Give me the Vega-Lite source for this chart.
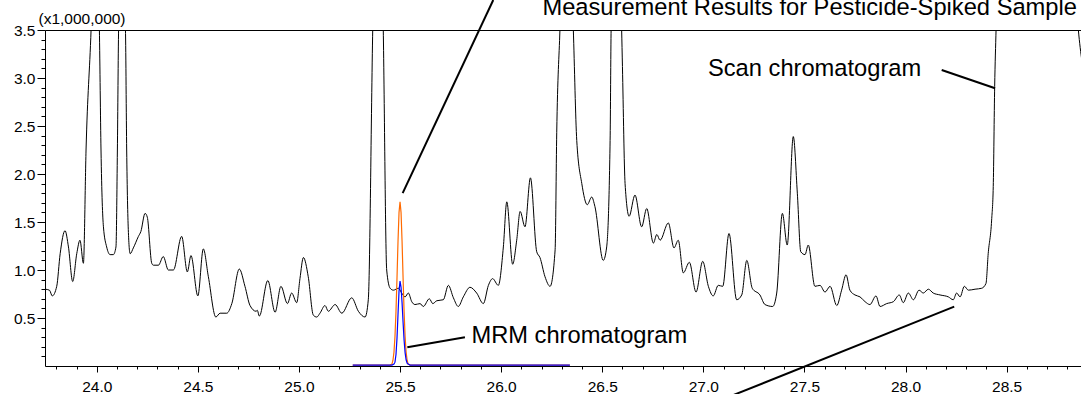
{
  "$schema": "https://vega.github.io/schema/vega-lite/v6.json",
  "width": 1036,
  "height": 336,
  "autosize": {"type": "none"},
  "padding": {"left": 45, "top": 30, "right": 0, "bottom": 28},
  "background": "white",
  "config": {
    "view": {"stroke": null},
    "axis": {
      "domainColor": "#000000",
      "tickColor": "#000000",
      "labelColor": "#000000",
      "labelFont": "Liberation Sans",
      "labelFontSize": 15.5,
      "grid": false,
      "titleFont": "Liberation Sans",
      "titleColor": "#000000",
      "titleFontWeight": "normal"
    }
  },
  "datasets": {
    "scan": [
      {"x": 23.744, "y": 0.80}, {"x": 23.766, "y": 0.79}, {"x": 23.780, "y": 0.73}, {"x": 23.802, "y": 0.83},
      {"x": 23.819, "y": 1.17}, {"x": 23.843, "y": 1.41}, {"x": 23.860, "y": 1.24}, {"x": 23.881, "y": 0.88},
      {"x": 23.901, "y": 1.17}, {"x": 23.917, "y": 1.31}, {"x": 23.934, "y": 1.07}, {"x": 23.947, "y": 2.25},
      {"x": 23.972, "y": 3.51}, {"x": 23.994, "y": 5.0}, {"x": 24.013, "y": 3.51}, {"x": 24.021, "y": 2.25},
      {"x": 24.033, "y": 1.45}, {"x": 24.049, "y": 1.24}, {"x": 24.066, "y": 1.16}, {"x": 24.082, "y": 1.16},
      {"x": 24.095, "y": 1.24}, {"x": 24.102, "y": 2.25}, {"x": 24.108, "y": 3.51}, {"x": 24.124, "y": 4.5},
      {"x": 24.142, "y": 3.51}, {"x": 24.148, "y": 2.25}, {"x": 24.156, "y": 1.42}, {"x": 24.165, "y": 1.17},
      {"x": 24.181, "y": 1.23}, {"x": 24.206, "y": 1.35}, {"x": 24.218, "y": 1.40}, {"x": 24.239, "y": 1.59},
      {"x": 24.250, "y": 1.55}, {"x": 24.272, "y": 1.07}, {"x": 24.280, "y": 1.05}, {"x": 24.305, "y": 1.05},
      {"x": 24.329, "y": 1.14}, {"x": 24.354, "y": 1.00}, {"x": 24.379, "y": 1.00}, {"x": 24.420, "y": 1.35},
      {"x": 24.448, "y": 0.98}, {"x": 24.466, "y": 1.15}, {"x": 24.500, "y": 0.73}, {"x": 24.527, "y": 1.22},
      {"x": 24.552, "y": 0.93}, {"x": 24.589, "y": 0.51}, {"x": 24.610, "y": 0.55}, {"x": 24.643, "y": 0.55},
      {"x": 24.668, "y": 0.65}, {"x": 24.705, "y": 1.01}, {"x": 24.733, "y": 0.83}, {"x": 24.758, "y": 0.63},
      {"x": 24.788, "y": 0.57}, {"x": 24.794, "y": 0.58}, {"x": 24.804, "y": 0.52}, {"x": 24.846, "y": 0.89},
      {"x": 24.882, "y": 0.56}, {"x": 24.911, "y": 0.83}, {"x": 24.943, "y": 0.65}, {"x": 24.964, "y": 0.76},
      {"x": 24.989, "y": 0.66}, {"x": 25.005, "y": 0.91}, {"x": 25.022, "y": 1.13}, {"x": 25.046, "y": 0.93},
      {"x": 25.071, "y": 0.53}, {"x": 25.088, "y": 0.51}, {"x": 25.104, "y": 0.55}, {"x": 25.129, "y": 0.63},
      {"x": 25.145, "y": 0.57}, {"x": 25.179, "y": 0.64}, {"x": 25.212, "y": 0.55}, {"x": 25.261, "y": 0.71},
      {"x": 25.294, "y": 0.57}, {"x": 25.327, "y": 0.51}, {"x": 25.343, "y": 0.69}, {"x": 25.365, "y": 3.51},
      {"x": 25.391, "y": 6.0}, {"x": 25.417, "y": 3.51}, {"x": 25.434, "y": 1.00}, {"x": 25.451, "y": 0.81},
      {"x": 25.467, "y": 0.79}, {"x": 25.492, "y": 0.81}, {"x": 25.508, "y": 0.76}, {"x": 25.525, "y": 0.72},
      {"x": 25.541, "y": 0.76}, {"x": 25.558, "y": 0.67}, {"x": 25.574, "y": 0.64}, {"x": 25.599, "y": 0.65},
      {"x": 25.615, "y": 0.62}, {"x": 25.645, "y": 0.70}, {"x": 25.662, "y": 0.65}, {"x": 25.682, "y": 0.68},
      {"x": 25.714, "y": 0.69}, {"x": 25.739, "y": 0.84}, {"x": 25.764, "y": 0.71}, {"x": 25.788, "y": 0.62},
      {"x": 25.813, "y": 0.72}, {"x": 25.846, "y": 0.82}, {"x": 25.879, "y": 0.76}, {"x": 25.912, "y": 0.65},
      {"x": 25.937, "y": 0.84}, {"x": 25.958, "y": 0.91}, {"x": 25.986, "y": 0.84}, {"x": 26.011, "y": 1.24},
      {"x": 26.028, "y": 1.71}, {"x": 26.057, "y": 1.06}, {"x": 26.077, "y": 1.31}, {"x": 26.094, "y": 1.61},
      {"x": 26.118, "y": 1.45}, {"x": 26.145, "y": 1.96}, {"x": 26.176, "y": 1.19}, {"x": 26.192, "y": 1.13},
      {"x": 26.217, "y": 0.93}, {"x": 26.242, "y": 0.83}, {"x": 26.267, "y": 1.21}, {"x": 26.275, "y": 2.43},
      {"x": 26.291, "y": 3.51}, {"x": 26.324, "y": 5.5}, {"x": 26.357, "y": 3.51}, {"x": 26.374, "y": 2.35},
      {"x": 26.399, "y": 1.90}, {"x": 26.426, "y": 1.68}, {"x": 26.448, "y": 1.76}, {"x": 26.464, "y": 1.66},
      {"x": 26.505, "y": 1.10}, {"x": 26.522, "y": 1.24}, {"x": 26.539, "y": 2.35}, {"x": 26.544, "y": 3.51},
      {"x": 26.568, "y": 5.0}, {"x": 26.596, "y": 3.51}, {"x": 26.600, "y": 3.12}, {"x": 26.613, "y": 1.90},
      {"x": 26.633, "y": 1.56}, {"x": 26.662, "y": 1.78}, {"x": 26.695, "y": 1.45}, {"x": 26.720, "y": 1.64},
      {"x": 26.753, "y": 1.28}, {"x": 26.770, "y": 1.37}, {"x": 26.786, "y": 1.31}, {"x": 26.827, "y": 1.49},
      {"x": 26.855, "y": 1.23}, {"x": 26.876, "y": 1.31}, {"x": 26.901, "y": 0.97}, {"x": 26.931, "y": 1.08},
      {"x": 26.964, "y": 0.77}, {"x": 26.997, "y": 1.09}, {"x": 27.025, "y": 0.83}, {"x": 27.049, "y": 0.73},
      {"x": 27.074, "y": 0.84}, {"x": 27.096, "y": 0.83}, {"x": 27.127, "y": 1.38}, {"x": 27.165, "y": 0.69},
      {"x": 27.190, "y": 0.74}, {"x": 27.215, "y": 1.10}, {"x": 27.242, "y": 0.81}, {"x": 27.280, "y": 0.74},
      {"x": 27.305, "y": 0.64}, {"x": 27.343, "y": 0.62}, {"x": 27.363, "y": 0.76}, {"x": 27.391, "y": 1.59},
      {"x": 27.415, "y": 1.26}, {"x": 27.445, "y": 2.39}, {"x": 27.465, "y": 1.80}, {"x": 27.482, "y": 1.19},
      {"x": 27.503, "y": 1.16}, {"x": 27.519, "y": 1.26}, {"x": 27.552, "y": 0.83}, {"x": 27.577, "y": 0.84},
      {"x": 27.602, "y": 0.77}, {"x": 27.627, "y": 0.83}, {"x": 27.660, "y": 0.63}, {"x": 27.684, "y": 0.79},
      {"x": 27.706, "y": 0.95}, {"x": 27.725, "y": 0.79}, {"x": 27.750, "y": 0.74}, {"x": 27.775, "y": 0.72},
      {"x": 27.800, "y": 0.67}, {"x": 27.824, "y": 0.64}, {"x": 27.854, "y": 0.73}, {"x": 27.874, "y": 0.62},
      {"x": 27.907, "y": 0.65}, {"x": 27.940, "y": 0.67}, {"x": 27.969, "y": 0.74}, {"x": 27.989, "y": 0.66},
      {"x": 28.014, "y": 0.76}, {"x": 28.039, "y": 0.69}, {"x": 28.067, "y": 0.79}, {"x": 28.088, "y": 0.76},
      {"x": 28.113, "y": 0.80}, {"x": 28.137, "y": 0.76}, {"x": 28.171, "y": 0.74}, {"x": 28.212, "y": 0.72},
      {"x": 28.236, "y": 0.69}, {"x": 28.253, "y": 0.76}, {"x": 28.270, "y": 0.72}, {"x": 28.291, "y": 0.83},
      {"x": 28.311, "y": 0.79}, {"x": 28.344, "y": 0.80}, {"x": 28.377, "y": 0.81}, {"x": 28.398, "y": 0.86},
      {"x": 28.409, "y": 1.17}, {"x": 28.426, "y": 1.52}, {"x": 28.434, "y": 1.87}, {"x": 28.441, "y": 2.91},
      {"x": 28.448, "y": 3.51}, {"x": 28.467, "y": 5.0}, {"x": 28.814, "y": 5.0}, {"x": 28.855, "y": 3.50},
      {"x": 28.873, "y": 3.17}
    ],
    "mrmOrange": [
      {"x": 25.266, "y": 0.01}, {"x": 25.45, "y": 0.01}, {"x": 25.46, "y": 0.02}, {"x": 25.465, "y": 0.06},
      {"x": 25.47, "y": 0.145}, {"x": 25.475, "y": 0.31}, {"x": 25.48, "y": 0.57}, {"x": 25.485, "y": 0.92},
      {"x": 25.49, "y": 1.30}, {"x": 25.495, "y": 1.60}, {"x": 25.50, "y": 1.71}, {"x": 25.505, "y": 1.60},
      {"x": 25.51, "y": 1.30}, {"x": 25.515, "y": 0.92}, {"x": 25.52, "y": 0.57}, {"x": 25.525, "y": 0.31},
      {"x": 25.53, "y": 0.145}, {"x": 25.535, "y": 0.06}, {"x": 25.54, "y": 0.02}, {"x": 25.55, "y": 0.01},
      {"x": 26.34, "y": 0.01}
    ],
    "mrmBlue": [
      {"x": 25.266, "y": 0.01}, {"x": 25.46, "y": 0.01}, {"x": 25.47, "y": 0.02}, {"x": 25.475, "y": 0.04},
      {"x": 25.48, "y": 0.12}, {"x": 25.485, "y": 0.29}, {"x": 25.49, "y": 0.54}, {"x": 25.495, "y": 0.78},
      {"x": 25.50, "y": 0.885}, {"x": 25.505, "y": 0.82}, {"x": 25.51, "y": 0.66}, {"x": 25.515, "y": 0.455},
      {"x": 25.52, "y": 0.27}, {"x": 25.525, "y": 0.14}, {"x": 25.53, "y": 0.065}, {"x": 25.535, "y": 0.03},
      {"x": 25.54, "y": 0.02}, {"x": 25.55, "y": 0.01}, {"x": 26.34, "y": 0.01}
    ],
    "callouts": [
      {"x": 25.513, "y": 1.80, "x2": 25.961, "y2": 3.8125},
      {"x": 25.536, "y": 0.195, "x2": 25.821, "y2": 0.299},
      {"x": 28.179, "y": 3.083, "x2": 28.443, "y2": 2.893},
      {"x": 28.241, "y": 0.618, "x2": 27.038, "y2": -0.396}
    ],
    "labels": [
      {"x": 25.853, "y": 0.243, "text": "MRM chromatogram"},
      {"x": 27.023, "y": 3.021, "text": "Scan chromatogram"}
    ],
    "heading": [
      {"x": 28.848, "y": 3.653, "text": "Measurement Results for Pesticide-Spiked Sample"}
    ]
  },
  "layer": [
    {
      "data": {"name": "scan"},
      "mark": {"type": "line", "color": "#000000", "strokeWidth": 1, "clip": true, "interpolate": "monotone"},
      "encoding": {
        "x": {
          "field": "x", "type": "quantitative",
          "scale": {"domain": [23.744, 28.868], "nice": false, "zero": false},
          "axis": {
            "orient": "bottom",
            "values": [23.8, 23.9, 24.0, 24.1, 24.2, 24.3, 24.4, 24.5, 24.6, 24.7, 24.8, 24.9, 25.0, 25.1, 25.2, 25.3, 25.4, 25.5, 25.6, 25.7, 25.8, 25.9, 26.0, 26.1, 26.2, 26.3, 26.4, 26.5, 26.6, 26.7, 26.8, 26.9, 27.0, 27.1, 27.2, 27.3, 27.4, 27.5, 27.6, 27.7, 27.8, 27.9, 28.0, 28.1, 28.2, 28.3, 28.4, 28.5, 28.6, 28.7, 28.8],
            "labelExpr": "round(datum.value*10) % 5 == 0 ? format(datum.value, '.1f') : ''",
            "tickSize": {"condition": {"test": "round(datum.value*10) % 5 == 0", "value": 6}, "value": 3},
            "labelPadding": 7,
            "labelFlush": false,
            "labelOverlap": false,
            "labelBound": false,
            "title": null
          }
        },
        "y": {
          "field": "y", "type": "quantitative",
          "scale": {"domain": [0, 3.5], "nice": false, "zero": false},
          "axis": {
            "orient": "left",
            "values": [0.1, 0.2, 0.3, 0.4, 0.5, 0.6, 0.7, 0.8, 0.9, 1.0, 1.1, 1.2, 1.3, 1.4, 1.5, 1.6, 1.7, 1.8, 1.9, 2.0, 2.1, 2.2, 2.3, 2.4, 2.5, 2.6, 2.7, 2.8, 2.9, 3.0, 3.1, 3.2, 3.3, 3.4, 3.5],
            "labelExpr": "round(datum.value*10) % 5 == 0 ? format(datum.value, '.1f') : ''",
            "tickSize": {"condition": {"test": "round(datum.value*10) % 5 == 0", "value": 8}, "value": 4},
            "labelPadding": 2,
            "labelFlush": false,
            "labelOverlap": false,
            "labelBound": false,
            "title": "(x1,000,000)",
            "titleAngle": 0,
            "titleAlign": "left",
            "titleBaseline": "alphabetic",
            "titleX": -7,
            "titleY": -6.5,
            "titleFontSize": 15.5
          }
        }
      }
    },
    {
      "data": {"name": "mrmOrange"},
      "mark": {"type": "line", "color": "#ff6a00", "strokeWidth": 1.2, "clip": true},
      "encoding": {
        "x": {
          "field": "x", "type": "quantitative",
          "scale": {"domain": [23.744, 28.868], "nice": false, "zero": false},
          "axis": {"orient": "top", "labels": false, "ticks": false, "domain": true, "title": null, "grid": false}
        },
        "y": {"field": "y", "type": "quantitative", "axis": null}
      }
    },
    {
      "data": {"name": "mrmBlue"},
      "mark": {"type": "line", "color": "#0000ff", "strokeWidth": 1.2, "clip": true},
      "encoding": {
        "x": {"field": "x", "type": "quantitative", "axis": null},
        "y": {"field": "y", "type": "quantitative", "axis": null}
      }
    },
    {
      "data": {"name": "callouts"},
      "mark": {"type": "rule", "color": "#000000", "strokeWidth": 2, "clip": false},
      "encoding": {
        "x": {"field": "x", "type": "quantitative", "axis": null},
        "y": {"field": "y", "type": "quantitative", "axis": null},
        "x2": {"field": "x2"},
        "y2": {"field": "y2"}
      }
    },
    {
      "data": {"name": "labels"},
      "mark": {"type": "text", "align": "left", "baseline": "alphabetic", "font": "Liberation Sans", "fontSize": 23.7, "color": "#000000"},
      "encoding": {
        "x": {"field": "x", "type": "quantitative", "axis": null},
        "y": {"field": "y", "type": "quantitative", "axis": null},
        "text": {"field": "text"}
      }
    },
    {
      "data": {"name": "heading"},
      "mark": {"type": "text", "align": "right", "baseline": "alphabetic", "font": "Liberation Sans", "fontSize": 23.7, "color": "#000000", "clip": false},
      "encoding": {
        "x": {"field": "x", "type": "quantitative", "axis": null},
        "y": {"field": "y", "type": "quantitative", "axis": null},
        "text": {"field": "text"}
      }
    }
  ],
  "resolve": {"axis": {"x": "independent", "y": "independent"}}
}
